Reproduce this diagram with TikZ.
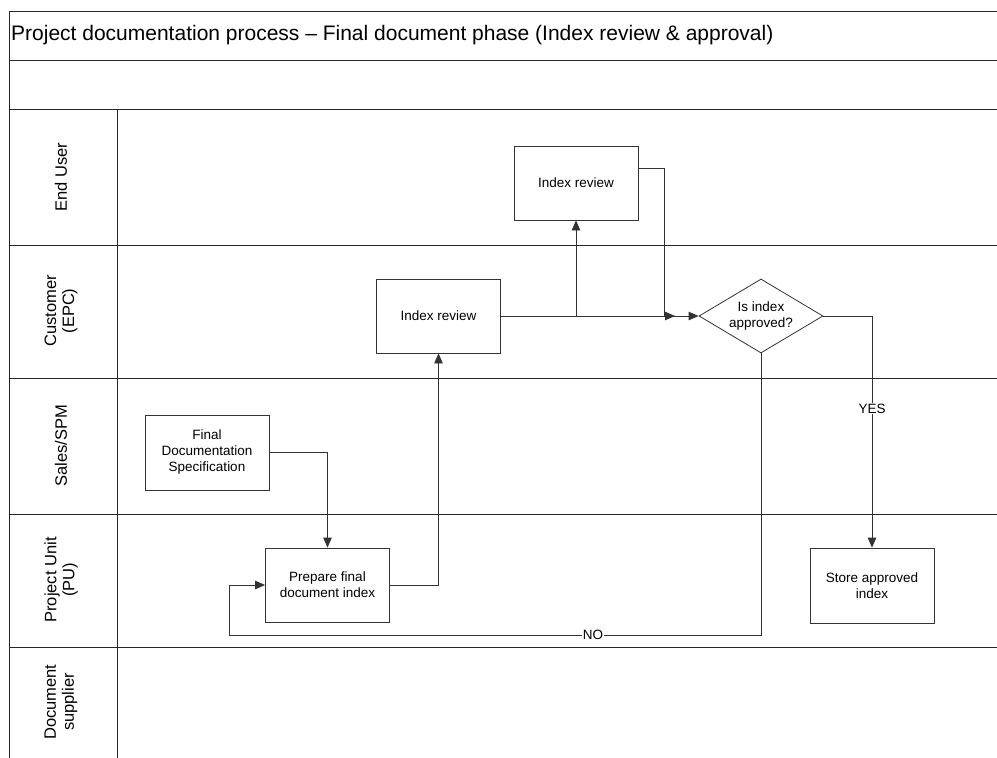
\documentclass[tikz,border=0pt]{standalone}
\usepackage{fontspec}
\setmainfont{Liberation Sans}
\usetikzlibrary{arrows.meta,shapes.geometric}

\begin{document}
\begin{tikzpicture}[x=1pt,y=-1pt,
  rule/.style={draw=black!85, line width=0.9pt},
  proc/.style={draw=black!80, line width=0.8pt, rectangle, align=center,
    minimum width=124pt, minimum height=74pt, inner sep=0pt,
    font=\fontsize{13.5}{16}\selectfont},
  decision/.style={draw=black!80, line width=0.8pt, diamond, aspect=1.676, align=center,
    minimum width=124pt, minimum height=74pt, inner sep=0pt,
    font=\fontsize{13.5}{16}\selectfont},
  lanelabel/.style={rotate=90, align=center, font=\fontsize{16.5}{18}\selectfont},
  flow/.style={draw=black!80, line width=0.8pt, -{Triangle[length=10pt,width=8.5pt]}},
  tag/.style={fill=white, inner sep=0.5pt, font=\fontsize{13.5}{16}\selectfont}]

\useasboundingbox (0,0) rectangle (997,758);

% pool frame and swimlanes
\draw[rule] (9,758) -- (9,11) -- (997,11);
\draw[rule] (9,60) -- (997,60);
\draw[rule] (9,109) -- (997,109);
\draw[rule] (117,109) -- (117,758);
\foreach \y in {245,378,514,647} \draw[rule] (9,\y) -- (997,\y);

\node[anchor=west, inner sep=0pt, font=\fontsize{21}{24}\selectfont] (title) at (11,35)
  {Project documentation process -- Final document phase (Index review \& approval)};

\node[lanelabel] (laneA) at (61,177) {End User};
\node[lanelabel] (laneB) at (61,311) {Customer\\(EPC)};
\node[lanelabel] (laneC) at (61,446) {Sales/SPM};
\node[lanelabel] (laneD) at (61,580) {Project Unit\\(PU)};
\node[lanelabel] (laneE) at (61,702) {Document\\supplier};

% process steps
\node[proc] (rev2) at (576,183) {Index review};
\node[proc] (rev1) at (438.5,316) {Index review};
\node[decision] (dec) at (761,316) {Is index\\approved?};
\node[proc, minimum height=75pt] (spec) at (207,452.5) {Final\\Documentation\\Specification};
\node[proc] (prep) at (327.5,585) {Prepare final\\document index};
\node[proc, minimum height=75pt] (store) at (872,585.5) {Store approved\\index};

\coordinate (join) at (675,316);
\coordinate (noturn) at (229,635);

% connectors
\draw[flow] (spec.east) -| (prep.north);
\draw[flow] (prep.east) -| (rev1.south);
\draw[flow] (rev1.east) -- (dec.west);
\draw[flow] (rev1.east) -| (rev2.south);
\draw[flow] ([yshift=15pt]rev2.east) -- ++(26,0) |- (join);
\draw[flow] (dec.east) -| node[tag, pos=0.70] {YES} (store.north);
\draw[flow] (dec.south) |- node[tag, pos=0.658] {NO} (noturn) |- (prep.west);
\end{tikzpicture}
\end{document}
